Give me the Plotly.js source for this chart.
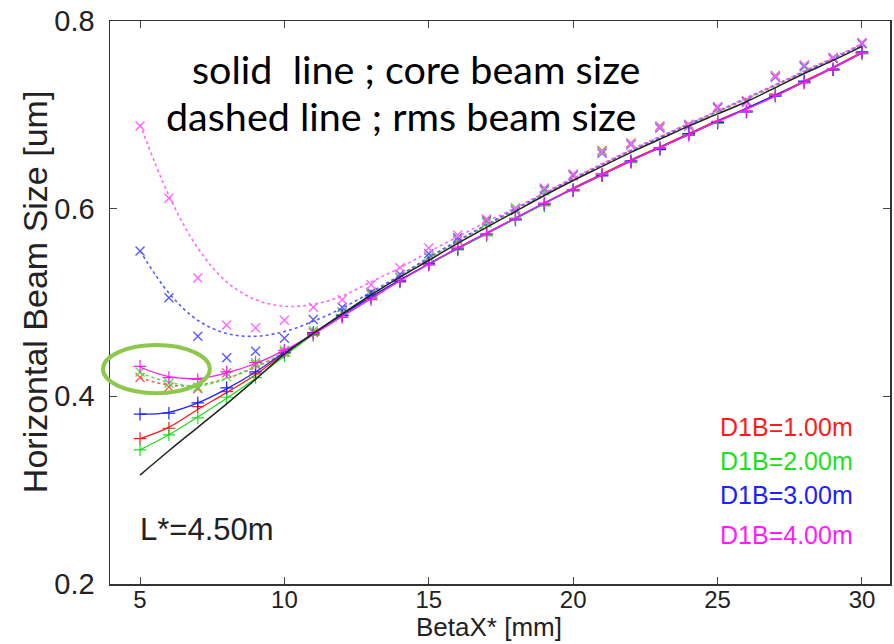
<!DOCTYPE html>
<html>
<head>
<meta charset="utf-8">
<script src="https://cdn.plot.ly/plotly-3.0.1.min.js"></script>
<style>html,body{margin:0;padding:0;background:#fff;}#chart{width:894px;height:644px;}</style>
</head>
<body>
<div id="chart"></div>
<script>
// BetaX* [mm]
const beta = [5,6,7,8,9,10,11,12,13,14,15,16,17,18,19,20,21,22,23,24,25,26,27,28,29,30];

// reference core size (black)
const blackCore = [0.316,0.342,0.367,0.392,0.418,0.445,0.467,0.488,0.508,0.527,0.545,0.563,0.580,0.597,0.614,0.630,0.645,0.660,0.674,0.688,0.701,0.714,0.729,0.744,0.758,0.773];

// core beam size: fitted lines (solid)
const redCoreFit   = [0.355,0.367,0.386,0.404,0.423,0.446,0.467,0.487,0.506,0.524,0.541,0.558,0.574,0.590,0.606,0.622,0.637,0.652,0.666,0.680,0.694,0.707,0.721,0.736,0.751,0.767];
const greenCoreFit = [0.343,0.359,0.378,0.398,0.419,0.443,0.466,0.486,0.506,0.524,0.541,0.557,0.573,0.589,0.605,0.621,0.636,0.651,0.665,0.679,0.693,0.706,0.720,0.735,0.750,0.766];
const blueCoreFit  = [0.381,0.383,0.393,0.408,0.426,0.447,0.467,0.487,0.506,0.524,0.541,0.558,0.574,0.590,0.606,0.621,0.636,0.651,0.665,0.679,0.693,0.707,0.721,0.735,0.750,0.766];
const magCoreFit   = [0.431,0.421,0.419,0.425,0.435,0.449,0.466,0.485,0.504,0.523,0.541,0.558,0.574,0.590,0.606,0.621,0.636,0.651,0.665,0.679,0.693,0.706,0.720,0.735,0.750,0.766];

// core beam size: simulated points (+)
const redCorePts   = [0.355,0.366,0.389,0.405,0.424,0.446,0.466,0.486,0.505,0.522,0.541,0.557,0.572,0.589,0.604,0.619,0.636,0.650,0.664,0.680,0.692,0.704,0.722,0.735,0.748,0.766];
const greenCorePts = [0.343,0.359,0.377,0.399,0.420,0.443,0.465,0.487,0.505,0.523,0.540,0.556,0.571,0.590,0.603,0.620,0.637,0.649,0.665,0.679,0.691,0.703,0.721,0.734,0.749,0.765];
const blueCorePts  = [0.381,0.382,0.393,0.409,0.426,0.447,0.468,0.486,0.507,0.523,0.542,0.557,0.573,0.588,0.605,0.620,0.635,0.651,0.663,0.680,0.692,0.703,0.720,0.736,0.748,0.767];
const magCorePts   = [0.432,0.420,0.418,0.426,0.436,0.449,0.467,0.484,0.503,0.524,0.540,0.559,0.573,0.589,0.606,0.620,0.637,0.650,0.665,0.678,0.693,0.704,0.721,0.734,0.749,0.766];

// rms beam size: fitted lines (dotted)
const redRmsFit   = [0.420,0.412,0.412,0.419,0.431,0.446,0.466,0.487,0.508,0.528,0.547,0.565,0.582,0.599,0.616,0.632,0.647,0.662,0.676,0.690,0.703,0.717,0.731,0.746,0.760,0.775];
const greenRmsFit = [0.425,0.415,0.411,0.419,0.432,0.447,0.467,0.488,0.508,0.528,0.547,0.565,0.582,0.599,0.616,0.632,0.647,0.662,0.676,0.690,0.703,0.717,0.731,0.746,0.760,0.775];
const blueRmsFit  = [0.555,0.510,0.481,0.467,0.464,0.469,0.480,0.494,0.511,0.529,0.548,0.566,0.583,0.600,0.616,0.632,0.647,0.662,0.676,0.690,0.704,0.718,0.732,0.746,0.760,0.775];
const magRmsFit   = [0.690,0.614,0.558,0.522,0.503,0.496,0.498,0.507,0.522,0.537,0.554,0.570,0.586,0.601,0.617,0.633,0.648,0.663,0.677,0.691,0.704,0.718,0.732,0.747,0.761,0.776];

// rms beam size: simulated points (x)
const redRmsPts   = [0.420,0.410,0.408,0.425,0.434,0.447,0.468,0.490,0.509,0.527,0.548,0.566,0.586,0.600,0.620,0.635,0.662,0.670,0.688,0.690,0.707,0.715,0.742,0.752,0.760,0.776];
const greenRmsPts = [0.426,0.414,0.410,0.421,0.436,0.449,0.470,0.489,0.508,0.526,0.549,0.567,0.585,0.601,0.619,0.636,0.661,0.669,0.687,0.689,0.708,0.714,0.741,0.751,0.761,0.776];
const blueRmsPts  = [0.555,0.505,0.464,0.441,0.448,0.462,0.482,0.495,0.511,0.530,0.552,0.569,0.588,0.598,0.621,0.636,0.659,0.668,0.686,0.688,0.708,0.714,0.740,0.752,0.760,0.776];
const magRmsPts   = [0.688,0.611,0.526,0.476,0.473,0.481,0.495,0.503,0.519,0.537,0.558,0.572,0.589,0.599,0.622,0.637,0.660,0.669,0.687,0.689,0.709,0.713,0.741,0.753,0.761,0.777];

const seriesNames = ['D1B=1.00m','D1B=2.00m','D1B=3.00m','D1B=4.00m'];
const colors = ['#ff1a1a','#1ee01e','#2020ff','#ff1aff'];
const dotColors = ['#ff5a5a','#4ee84e','#5a5aff','#ff66ff'];

const coreFits = [redCoreFit, greenCoreFit, blueCoreFit, magCoreFit];
const corePts = [redCorePts, greenCorePts, blueCorePts, magCorePts];
const rmsFits = [redRmsFit, greenRmsFit, blueRmsFit, magRmsFit];
const rmsPts = [redRmsPts, greenRmsPts, blueRmsPts, magRmsPts];

const traces = [];
for (let i = 0; i < 4; i++) {
  traces.push({x: beta, y: rmsFits[i], type: 'scatter', mode: 'lines', line: {color: dotColors[i], width: 1.6, dash: 'dot', shape: 'spline'}, hoverinfo: 'skip', showlegend: false});
  traces.push({x: beta, y: rmsPts[i], type: 'scatter', mode: 'markers', marker: {symbol: 'x-thin', size: 9, line: {color: dotColors[i], width: 1.4}}, showlegend: false});
}
for (let i = 0; i < 4; i++) {
  traces.push({x: beta, y: coreFits[i], type: 'scatter', mode: 'lines', line: {color: colors[i], width: 1.3, shape: 'spline'}, name: seriesNames[i], showlegend: false});
  traces.push({x: beta, y: corePts[i], type: 'scatter', mode: 'markers', marker: {symbol: 'cross-thin', size: 9, line: {color: colors[i], width: 1.2}}, showlegend: false});
}
traces.push({x: beta, y: blackCore, type: 'scatter', mode: 'lines', line: {color: '#222', width: 1.5, shape: 'spline'}, showlegend: false});

const sans = 'Liberation Sans, Arial, sans-serif';

const annotations = [
  {xref: 'paper', yref: 'paper', x: 0.392, y: 0.9165, text: 'solid  line ; core beam size', showarrow: false, xanchor: 'center', yanchor: 'middle', font: {family: 'Lato, Open Sans, sans-serif', size: 39.5, color: '#000'}},
  {xref: 'paper', yref: 'paper', x: 0.373, y: 0.833, text: 'dashed line ; rms beam size', showarrow: false, xanchor: 'center', yanchor: 'middle', font: {family: 'Lato, Open Sans, sans-serif', size: 39.5, color: '#000'}},
  {xref: 'paper', yref: 'paper', x: 0.036, y: 0.096, text: 'L*=4.50m', showarrow: false, xanchor: 'left', yanchor: 'middle', font: {family: sans, size: 31, color: '#222'}},
  {xref: 'paper', yref: 'paper', x: 0.486, y: -0.1048, text: 'BetaX* [mm]', showarrow: false, xanchor: 'center', yanchor: 'bottom', borderpad: 0, font: {family: sans, size: 26, color: '#222'}},
  {xref: 'paper', yref: 'paper', x: -0.097, y: 0.519, text: 'Horizontal Beam Size [um]', textangle: -90, showarrow: false, xanchor: 'center', yanchor: 'middle', font: {family: sans, size: 34, color: '#222'}}
];
const legendY = [0.279, 0.219, 0.158, 0.087];
for (let i = 0; i < 4; i++) {
  annotations.push({xref: 'paper', yref: 'paper', x: 0.7795, y: legendY[i], text: seriesNames[i], showarrow: false, xanchor: 'left', yanchor: 'middle', font: {family: sans, size: 25, color: colors[i]}});
}

const layout = {
  width: 894, height: 644,
  margin: {l: 110, r: 4, t: 21, b: 60},
  paper_bgcolor: '#fff', plot_bgcolor: '#fff',
  showlegend: false,
  xaxis: {
    range: [3.96, 30.97], tickvals: [5,10,15,20,25,30], ticktext: ['5','10','15','20','25','30'],
    ticks: 'inside', ticklen: 7, tickcolor: '#444', tickwidth: 1,
    showline: true, linecolor: '#333', linewidth: 1.5, mirror: 'ticks',
    showgrid: false, zeroline: false, tickfont: {family: sans, size: 24, color: '#222'},
    ticklabelstandoff: -6
  },
  yaxis: {
    range: [0.2, 0.8], tickvals: [0.2,0.4,0.6,0.8], ticktext: ['0.2','0.4','0.6','0.8'],
    ticks: 'inside', ticklen: 7, tickcolor: '#444', tickwidth: 1,
    showline: true, linecolor: '#333', linewidth: 1.5, mirror: 'ticks',
    showgrid: false, zeroline: false, tickfont: {family: sans, size: 29, color: '#222'},
    ticklabelstandoff: 8
  },
  annotations: annotations,
  shapes: [
    {type: 'circle', xref: 'paper', yref: 'paper', x0: -0.009, x1: 0.128, y0: 0.339, y1: 0.4245, line: {color: '#8cc84b', width: 4}}
  ]
};

Plotly.newPlot('chart', traces, layout, {displayModeBar: false, staticPlot: true});
</script>
</body>
</html>
